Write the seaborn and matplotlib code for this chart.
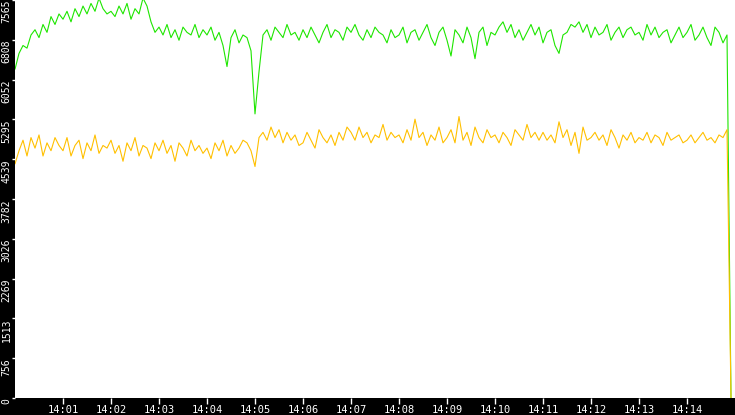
import matplotlib
matplotlib.use("Agg")
import matplotlib.pyplot as plt
import numpy as np
import pandas as pd
import seaborn as sns

# one sample every 5 seconds starting 14:00:00
green_vals = [
    6250, 6550, 6700, 6650, 6900, 7000, 6850, 7100, 6950, 7250, 7100, 7300,
    7200, 7350, 7150, 7400, 7250, 7450, 7300, 7500, 7350, 7600, 7400, 7300,
    7350, 7250, 7450, 7300, 7500, 7200, 7400, 7300, 7600, 7450, 7150, 6950,
    7050, 6900, 7100, 6850, 7000, 6800, 7050, 6950, 6900, 7100, 6850, 7000,
    6900, 7050, 6800, 6950, 6700, 6300, 6850, 7000, 6750, 6900, 6850, 6600,
    5400, 6200, 6900, 7000, 6800, 7050, 6950, 6850, 7100, 6900, 6950, 6800,
    7000, 6850, 7050, 6900, 6750, 6950, 7100, 6850, 7000, 6950, 6800, 7050,
    6950, 7100, 6900, 6800, 7000, 6850, 7050, 6950, 6900, 6750, 7000, 6850,
    6900, 7050, 6750, 6950, 7000, 6800, 6950, 7100, 6850, 6700, 6950, 7050,
    6800, 6500, 7000, 6900, 6750, 7050, 6850, 6450, 6950, 7050, 6700, 6950,
    6900, 7050, 7150, 6950, 7100, 6850, 7000, 6800, 6950, 7100, 6900, 7050,
    6750, 6950, 7000, 6700, 6550, 6900, 6950, 7100, 7050, 7150, 6950, 7100,
    6850, 7050, 6900, 6950, 7100, 6800, 6950, 7050, 6850, 7000, 7050, 6900,
    6950, 6800, 7100, 6900, 7050, 6850, 6950, 7000, 6750, 6900, 7050, 6850,
    6950, 7100, 6800, 6900, 7050, 6850, 6700, 7050, 6950, 6750, 6900, 0,
]
yellow_vals = [
    4450, 4700, 4900, 4600, 4950, 4750, 5000, 4600, 4850, 4700, 4950, 4800,
    4700, 4950, 4600, 4800, 4900, 4550, 4850, 4700, 5000, 4650, 4800, 4750,
    4900, 4650, 4800, 4500, 4850, 4700, 4950, 4600, 4800, 4750, 4550, 4850,
    4700, 4900, 4650, 4800, 4500, 4850, 4750, 4600, 4900, 4700, 4800, 4650,
    4750, 4550, 4850, 4700, 4900, 4600, 4800, 4650, 4750, 4900, 4850, 4700,
    4400, 4950, 5050, 4900, 5150, 4950, 5100, 4850, 5050, 4900, 5000, 4800,
    4850, 5050, 4900, 4750, 5100, 4950, 4850, 5000, 4800, 5050, 4900, 5150,
    5050, 4900, 5150, 4950, 5050, 4850, 5000, 4950, 5200, 4900, 5050, 4950,
    5000, 4850, 5100, 4900, 5300, 4950, 5050, 4800, 5000, 4900, 5150, 4850,
    4950, 5100, 4850, 5350, 4900, 5050, 4800, 5150, 4950, 4850, 5100, 4950,
    5000, 4850, 5050, 4950, 4800, 5100, 5000, 4900, 5200, 4950, 5050, 4900,
    5050, 4900, 5000, 4850, 5250, 4950, 5100, 4800, 5050, 4650, 5150, 4900,
    4950, 5050, 4900, 5000, 4800, 5100, 4950, 4750, 5000, 4900, 5050, 4850,
    4950, 4900, 5050, 4850, 5000, 4950, 4800, 5050, 4900, 4950, 5000, 4850,
    4900, 5000, 4850, 4950, 5050, 4900, 4950, 4850, 5000, 4950, 5100, 0,
]
seconds = [5 * i for i in range(len(green_vals))]
tick_labels_x = ["14:%02d" % m for m in range(1, 15)]
y_ticks = [0, 756, 1513, 2269, 3026, 3782, 4539, 5295, 6052, 6808, 7565]

df = pd.DataFrame({
    "t": seconds * 2,
    "value": green_vals + yellow_vals,
    "series": ["green"] * len(seconds) + ["yellow"] * len(seconds),
})

sns.set_style("white")
fig = plt.figure(figsize=(7.35, 4.15), dpi=100, facecolor="black")
ax = fig.add_axes([15 / 735, 17 / 415, 720 / 735, 398 / 415])
sns.lineplot(data=df, x="t", y="value", hue="series",
             palette={"green": "#1ee600", "yellow": "#ffc000"},
             linewidth=0.8, legend=False, ax=ax)

ax.set_xlim(0, 900)
ax.set_ylim(0, 7565)
ax.set_xticks([60 * m for m in range(1, 15)])
ax.set_xticklabels(tick_labels_x)
ax.set_yticks(y_ticks)
ax.set_yticklabels([str(v) for v in y_ticks], rotation=90, va="top")
ax.set_xlabel("")
ax.set_ylabel("")
ax.tick_params(axis="x", colors="white", labelcolor="white",
               labelsize=7.5, length=4, width=1, bottom=True, pad=1)
ax.tick_params(axis="y", colors="white", labelcolor="white",
               labelsize=7, length=2, width=1, left=True, pad=0.5)
for lab in ax.get_xticklabels() + ax.get_yticklabels():
    lab.set_family("DejaVu Sans Mono")
for s in ax.spines.values():
    s.set_visible(False)

fig.savefig("out.png", dpi=100, facecolor="black")
